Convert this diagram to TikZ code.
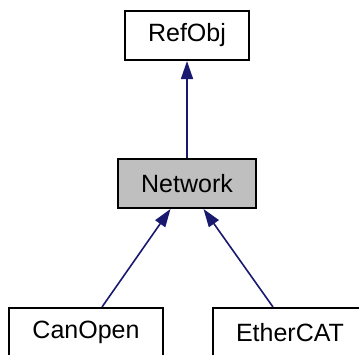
\documentclass[tikz,border=0pt]{standalone}
\usepackage{fontspec}
\setmainfont{Liberation Sans}
\usetikzlibrary{arrows.meta}

\begin{document}
\begin{tikzpicture}[x=1pt,y=1pt]

% Colori
\definecolor{colEdge}{HTML}{191970}
\definecolor{colSel}{HTML}{BFBFBF}

\tikzset{
  classbox/.style={draw=black, fill=white, line width=2pt, inner xsep=23pt,
    minimum height=49pt, font=\fontsize{25}{30}\selectfont},
  inherit/.style={colEdge, line width=1.6pt,
    {Triangle[length=18pt,width=12pt]}-}
}

\useasboundingbox (0,0) rectangle (359,-354);

% Classi
\node[classbox] (refobj) at (187,-35.5) {RefObj};
\node[classbox, fill=colSel] (network) at (187,-183.5) {Network};
\node[classbox] (canopen) at (86,-332.5) {CanOpen};
\node[classbox] (ethercat) at (290,-332.5) {EtherCAT};

% Ereditarieta
\draw[inherit] (refobj.south) -- (network.north);
\draw[inherit] ([xshift=-16.5pt]network.south) -- ([xshift=16pt]canopen.north);
\draw[inherit] ([xshift=16.5pt]network.south) -- ([xshift=-17pt]ethercat.north);

\end{tikzpicture}
\end{document}
